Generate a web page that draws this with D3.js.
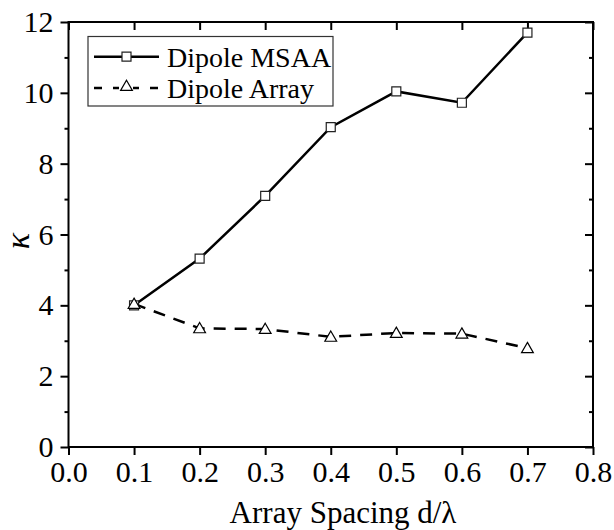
<!DOCTYPE html>
<html><head><meta charset="utf-8">
<script src="https://cdn.jsdelivr.net/npm/d3@7/dist/d3.min.js"></script>
<style>body{margin:0;background:#fff}svg{display:block}text{font-family:"Liberation Serif","Tinos","Times New Roman","DejaVu Serif",serif;fill:#000}</style>
</head><body>
<script>
const spacing = [0.1, 0.2, 0.3, 0.4, 0.5, 0.6, 0.7];
const msaa = [4.0, 5.32, 7.09, 9.03, 10.04, 9.72, 11.70];
const array = [4.04, 3.35, 3.33, 3.11, 3.22, 3.20, 2.79];
const seriesNames = ["Dipole MSAA", "Dipole Array"];
const xTicks = [0.0, 0.1, 0.2, 0.3, 0.4, 0.5, 0.6, 0.7, 0.8];
const yTicks = [0, 2, 4, 6, 8, 10, 12];
const yMinor = [1, 3, 5, 7, 9, 11];

const FONT = '"Liberation Serif","Tinos","Times New Roman","DejaVu Serif",serif';
const W = 614, H = 530;
const L = 68.5, R = 593, T = 22, B = 447;
const svg = d3.select("body").append("svg").attr("width", W).attr("height", H);
const x = d3.scaleLinear().domain([0, 0.8]).range([L, R]);
const y = d3.scaleLinear().domain([0, 12]).range([B, T]);

function styleAxis(g) {
  g.attr("font-family", FONT);
  g.select(".domain").remove();
  g.selectAll("line").attr("stroke", "#000").attr("stroke-width", 2);
}
svg.append("g").attr("transform", `translate(${L},0)`)
  .call(d3.axisLeft(y).tickValues(yTicks).tickSize(8).tickPadding(7).tickFormat(d3.format("d")))
  .call(styleAxis)
  .call(g => g.selectAll("text").style("font-size", "30px"));
svg.append("g").attr("transform", `translate(${L},0)`)
  .call(d3.axisLeft(y).tickValues(yMinor).tickSize(4).tickFormat(""))
  .call(styleAxis);
svg.append("g").attr("transform", `translate(${R},0)`)
  .call(d3.axisLeft(y).tickValues(yTicks).tickSize(8).tickFormat(""))
  .call(styleAxis).call(g => g.selectAll("line").attr("x2", -8));
svg.append("g").attr("transform", `translate(${R},0)`)
  .call(d3.axisLeft(y).tickValues(yMinor).tickSize(4).tickFormat(""))
  .call(styleAxis).call(g => g.selectAll("line").attr("x2", -4));
svg.append("g").attr("transform", `translate(0,${B})`)
  .call(d3.axisBottom(x).tickValues(xTicks).tickSize(8).tickPadding(6).tickFormat(d3.format(".1f")))
  .call(styleAxis)
  .call(g => g.selectAll("text").style("font-size", "30px"));
svg.append("g").attr("transform", `translate(0,${T})`)
  .call(d3.axisBottom(x).tickValues(xTicks).tickSize(8).tickFormat(""))
  .call(styleAxis);
svg.append("rect").attr("x", L).attr("y", T).attr("width", R - L).attr("height", B - T)
  .attr("fill", "none").attr("stroke", "#000").attr("stroke-width", 2);

const line = d3.line().x(d => x(d[0])).y(d => y(d[1]));
const d1 = spacing.map((s, i) => [s, msaa[i]]);
const d2 = spacing.map((s, i) => [s, array[i]]);
svg.append("path").attr("d", line(d2)).attr("fill", "none").attr("stroke", "#000")
  .attr("stroke-width", 2.5).attr("stroke-dasharray", "12,9");
svg.append("path").attr("d", line(d1)).attr("fill", "none").attr("stroke", "#000").attr("stroke-width", 2.5);

const sq = d3.symbol().type(d3.symbolSquare).size(81);
const tri = d3.symbol().type(d3.symbolTriangle).size(60);
svg.selectAll(".m1").data(d1).enter().append("path")
  .attr("transform", d => `translate(${x(d[0])},${y(d[1])})`).attr("d", sq)
  .attr("fill", "#fff").attr("stroke", "#222").attr("stroke-width", 1.2);
svg.selectAll(".m2").data(d2).enter().append("path")
  .attr("transform", d => `translate(${x(d[0])},${y(d[1]) + 1})`).attr("d", tri)
  .attr("fill", "#fff").attr("stroke", "#000").attr("stroke-width", 1.2);

const lg = svg.append("g");
lg.append("rect").attr("x", 88).attr("y", 36.5).attr("width", 245).attr("height", 69.5)
  .attr("fill", "#fff").attr("stroke", "#333").attr("stroke-width", 1.2);
const rows = [56.7, 88];
lg.append("line").attr("x1", 94).attr("x2", 159).attr("y1", rows[0]).attr("y2", rows[0])
  .attr("stroke", "#000").attr("stroke-width", 2.5);
lg.append("line").attr("x1", 94).attr("x2", 159).attr("y1", rows[1]).attr("y2", rows[1])
  .attr("stroke", "#000").attr("stroke-width", 2.5).attr("stroke-dasharray", "8,11,6,14,6,11,8");
lg.append("path").attr("transform", `translate(126.5,${rows[0]})`).attr("d", sq)
  .attr("fill", "#fff").attr("stroke", "#222").attr("stroke-width", 1.2);
lg.append("path").attr("transform", `translate(126.5,${rows[1] - 1})`).attr("d", tri)
  .attr("fill", "#fff").attr("stroke", "#000").attr("stroke-width", 1.2);
lg.selectAll(".lt").data(seriesNames).enter().append("text")
  .attr("x", 167).attr("y", (d, i) => rows[i]).attr("dy", "0.35em")
  .style("font-size", "28px").text(d => d);

svg.append("text").attr("x", 343).attr("y", 523).attr("text-anchor", "middle")
  .style("font-size", "31px").text("Array Spacing d/λ");
svg.append("text").attr("transform", "translate(29,241) rotate(-90)").attr("text-anchor", "middle")
  .style("font-size", "34px").style("font-style", "italic").text("κ");
</script>
</body></html>
